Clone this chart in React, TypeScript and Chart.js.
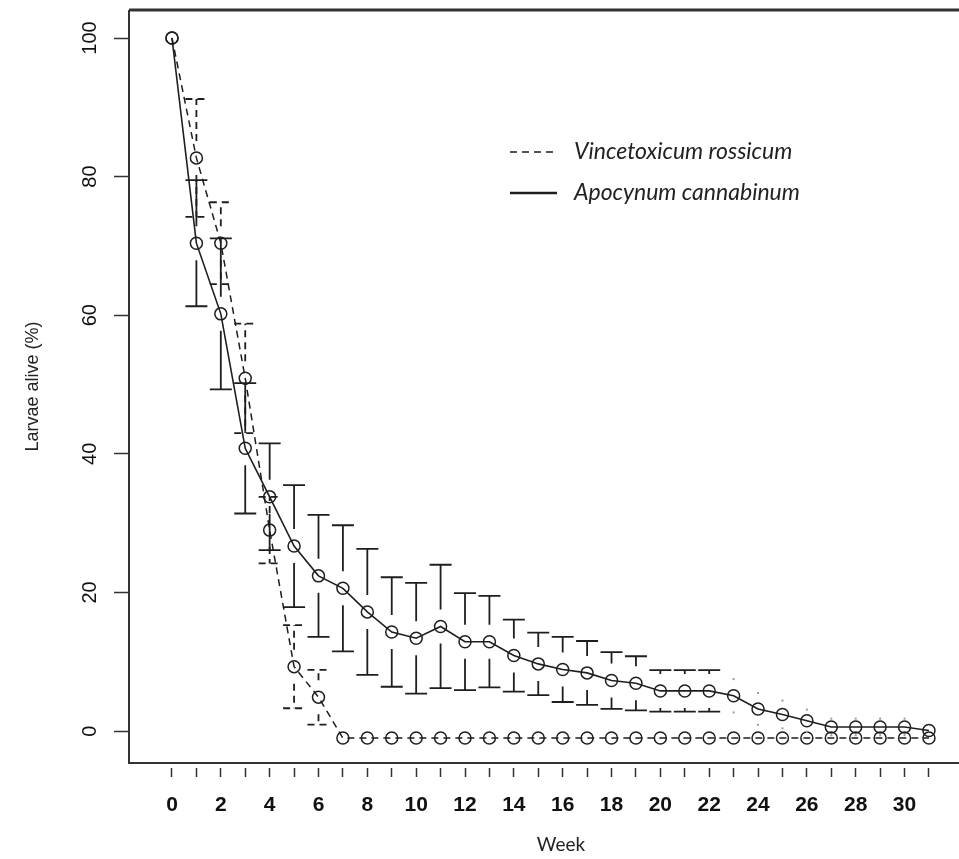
import React, { useEffect, useRef } from 'react';
import { Chart, registerables } from 'chart.js';

Chart.register(...registerables);

// ---- data ----
const weeks = [0, 1, 2, 3, 4, 5, 6, 7, 8, 9, 10, 11, 12, 13, 14, 15, 16, 17, 18, 19, 20, 21, 22, 23, 24, 25, 26, 27, 28, 29, 30, 31];
const xTickLabels = ['0', '', '2', '', '4', '', '6', '', '8', '', '10', '', '12', '', '14', '', '16', '', '18', '', '20', '', '22', '', '24', '', '26', '', '28', '', '30', ''];
const yTickValues = [0, 20, 40, 60, 80, 100];

const apocynumMean = [100, 70.4, 60.2, 40.8, 33.8, 26.7, 22.4, 20.6, 17.2, 14.3, 13.4, 15.1, 12.9, 12.9, 10.9, 9.7, 8.9, 8.4, 7.3, 6.9, 5.8, 5.8, 5.8, 5.1, 3.2, 2.4, 1.5, 0.6, 0.6, 0.6, 0.6, 0.1];
const apocynumSE = [0, 9.1, 10.9, 9.4, 7.7, 8.8, 8.8, 9.1, 9.1, 7.9, 8.0, 8.9, 7.0, 6.6, 5.2, 4.5, 4.7, 4.6, 4.1, 3.9, 3.0, 3.0, 3.0, 2.4, 2.3, 2.0, 1.6, 1.2, 1.2, 1.2, 1.2, 0];
const vincetoxicumMean = [100, 82.7, 70.4, 50.9, 29.0, 9.3, 4.9, -1, -1, -1, -1, -1, -1, -1, -1, -1, -1, -1, -1, -1, -1, -1, -1, -1, -1, -1, -1, -1, -1, -1, -1, -1];
const vincetoxicumSE = [0, 8.5, 5.9, 7.9, 4.8, 6.0, 3.95, 0, 0, 0, 0, 0, 0, 0, 0, 0, 0, 0, 0, 0, 0, 0, 0, 0, 0, 0, 0, 0, 0, 0, 0, 0];

const seriesNames = ['Vincetoxicum rossicum', 'Apocynum cannabinum'];
const xTitle = '       Week';
const yTitle = 'Larvae alive (%)';

const INK = '#1e1e1e';
const DASH = [7, 5];

const errorBarPlugin = {
  id: 'errorBars',
  afterDatasetsDraw(chart: any) {
    const { ctx, scales } = chart;
    const xs = scales.x;
    const ys = scales.y;
    const gap = 17;
    const half = 11;
    const groups = [
      { mean: vincetoxicumMean, se: vincetoxicumSE, dash: DASH },
      { mean: apocynumMean, se: apocynumSE, dash: [] as number[] },
    ];
    ctx.save();
    groups.forEach((g) => {
      weeks.forEach((w, i) => {
        const s = g.se[i];
        if (!s) return;
        const px = xs.getPixelForValue(w);
        const py = ys.getPixelForValue(g.mean[i]);
        const up = ys.getPixelForValue(g.mean[i] + s);
        const lo = ys.getPixelForValue(g.mean[i] - s);
        if (py - up <= gap) {
          ctx.fillStyle = '#9a9a9a';
          ctx.fillRect(px - 1, up - 1, 2, 2);
          ctx.fillRect(px - 1, lo - 1, 2, 2);
          return;
        }
        ctx.strokeStyle = INK;
        ctx.lineWidth = 1.8;
        ctx.setLineDash(g.dash);
        ctx.beginPath();
        ctx.moveTo(px, py - gap);
        ctx.lineTo(px, up);
        ctx.moveTo(px - half, up);
        ctx.lineTo(px + half, up);
        ctx.moveTo(px, py + gap);
        ctx.lineTo(px, lo);
        ctx.moveTo(px - half, lo);
        ctx.lineTo(px + half, lo);
        ctx.stroke();
      });
    });
    ctx.restore();
  },
};

const framePlugin = {
  id: 'frame',
  afterDraw(chart: any) {
    const { ctx, chartArea, width } = chart;
    const { left, top, bottom } = chartArea;
    ctx.save();
    ctx.strokeStyle = '#333';
    ctx.lineWidth = 3;
    ctx.beginPath();
    ctx.moveTo(left, top);
    ctx.lineTo(width + 2, top);
    ctx.stroke();
    ctx.lineWidth = 2;
    ctx.beginPath();
    ctx.moveTo(left, top);
    ctx.lineTo(left, bottom);
    ctx.lineTo(width + 2, bottom);
    ctx.stroke();
    ctx.restore();
  },
};

const legendPlugin = {
  id: 'customLegend',
  afterDraw(chart: any) {
    const { ctx } = chart;
    const x0 = 510;
    const x1 = 557;
    const tx = 574;
    const rows = [
      { y: 152, dash: DASH, w: 1.6 },
      { y: 193, dash: [] as number[], w: 2.6 },
    ];
    ctx.save();
    rows.forEach((r, i) => {
      ctx.strokeStyle = INK;
      ctx.lineWidth = r.w;
      ctx.setLineDash(r.dash);
      ctx.beginPath();
      ctx.moveTo(x0, r.y);
      ctx.lineTo(x1, r.y);
      ctx.stroke();
      ctx.setLineDash([]);
      ctx.fillStyle = '#222';
      ctx.font = 'italic 23px Lato, "Open Sans", sans-serif';
      ctx.textBaseline = 'middle';
      ctx.textAlign = 'left';
      ctx.fillText(seriesNames[i], tx, r.y);
    });
    ctx.restore();
  },
};

export default function App() {
  const ref = useRef<HTMLCanvasElement | null>(null);

  useEffect(() => {
    if (!ref.current) return;
    const chart = new Chart(ref.current, {
      type: 'line',
      data: {
        datasets: [
          {
            label: seriesNames[0],
            data: weeks.map((w, i) => ({ x: w, y: vincetoxicumMean[i] })),
            borderColor: INK,
            borderWidth: 1.5,
            borderDash: DASH,
            pointRadius: 6,
            pointHoverRadius: 6,
            pointBorderWidth: 1.5,
            pointBorderColor: INK,
            pointBackgroundColor: 'rgba(0,0,0,0)',
            tension: 0,
          },
          {
            label: seriesNames[1],
            data: weeks.map((w, i) => ({ x: w, y: apocynumMean[i] })),
            borderColor: INK,
            borderWidth: 1.6,
            pointRadius: 6,
            pointHoverRadius: 6,
            pointBorderWidth: 1.5,
            pointBorderColor: INK,
            pointBackgroundColor: 'rgba(0,0,0,0)',
            tension: 0,
          },
        ],
      },
      options: {
        responsive: false,
        animation: false,
        devicePixelRatio: 1,
        layout: { autoPadding: false, padding: { top: 10, left: 0, right: 0, bottom: 0 } },
        plugins: {
          legend: { display: false },
          tooltip: { enabled: false },
        },
        scales: {
          x: {
            type: 'linear',
            min: -1.76,
            max: 32.23,
            afterBuildTicks: (s: any) => {
              s.ticks = weeks.map((w) => ({ value: w }));
            },
            afterFit: (s: any) => {
              s.height = 96;
              s.paddingLeft = 0;
              s.paddingRight = 0;
            },
            grid: {
              display: true,
              drawOnChartArea: false,
              drawTicks: true,
              tickLength: 14,
              tickWidth: 1.5,
              tickColor: '#333',
              tickBorderDash: [0, 5, 9, 100],
            },
            border: { display: false },
            ticks: {
              autoSkip: false,
              maxRotation: 0,
              minRotation: 0,
              padding: 16,
              color: '#111',
              font: { family: '"Liberation Sans", Arial, sans-serif', size: 21, weight: 'bold' },
              callback: (v: any) => {
                const i = weeks.indexOf(Number(v));
                return i >= 0 ? xTickLabels[i] : '';
              },
            },
            title: {
              display: true,
              text: xTitle,
              color: '#222',
              font: { family: 'Lato, "Open Sans", sans-serif', size: 19 },
              padding: { top: 0, bottom: 3 },
            },
          },
          y: {
            type: 'linear',
            min: -4.6,
            max: 104.04,
            afterBuildTicks: (s: any) => {
              s.ticks = yTickValues.map((v) => ({ value: v }));
            },
            afterFit: (s: any) => {
              s.width = 129;
              s.paddingTop = 0;
              s.paddingBottom = 0;
            },
            grid: {
              display: true,
              drawOnChartArea: false,
              drawTicks: true,
              tickLength: 15,
              tickWidth: 1.5,
              tickColor: '#333',
            },
            border: { display: false },
            ticks: {
              minRotation: 90,
              maxRotation: 90,
              crossAlign: 'center',
              padding: 7,
              color: '#111',
              font: { family: '"Liberation Sans", Arial, sans-serif', size: 20 },
            },
            title: {
              display: true,
              text: yTitle,
              color: '#222',
              font: { family: '"Liberation Sans", Arial, sans-serif', size: 18 },
              padding: { top: 22, bottom: 0 },
            },
          },
        },
      } as any,
      plugins: [errorBarPlugin, framePlugin, legendPlugin],
    });
    return () => chart.destroy();
  }, []);

  return (
    <div style={{ position: 'fixed', left: 0, top: 0, width: 959, height: 859, background: '#fff' }}>
      <canvas ref={ref} width={959} height={859} style={{ display: 'block' }} />
    </div>
  );
}
